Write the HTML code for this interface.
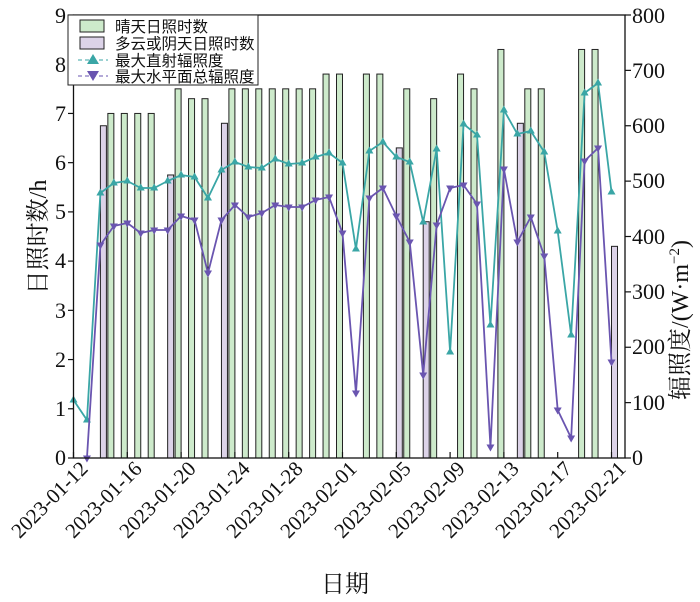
<!DOCTYPE html>
<html><head><meta charset="utf-8"><style>
body{margin:0;background:#fff}
svg{display:block}
.n{font-family:"Liberation Serif","Times New Roman",Times,serif;fill:#111}
.cjk{font-family:"Noto Sans CJK SC","WenQuanYi Zen Hei",sans-serif;fill:#111}
.mix{font-family:"Liberation Serif","Noto Serif CJK SC",serif;fill:#111}
</style></head><body>
<svg width="700" height="602" viewBox="0 0 700 602" xmlns="http://www.w3.org/2000/svg">
<g id="bars" stroke="#222" stroke-width="1"></g>
<g id="lines"></g>
<rect x="73.5" y="15" width="551.5" height="443" fill="none" stroke="#111" stroke-width="1.3"/>
<g id="ticks" stroke="#111" stroke-width="1.2"></g>
<g font-size="22" text-anchor="end" class="n">
<text class="n" x="66" y="465">0</text><text class="n" x="66" y="416">1</text><text class="n" x="66" y="367">2</text><text class="n" x="66" y="318">3</text><text class="n" x="66" y="268">4</text><text class="n" x="66" y="219">5</text><text class="n" x="66" y="170">6</text><text class="n" x="66" y="121">7</text><text class="n" x="66" y="72">8</text><text class="n" x="66" y="23">9</text>
</g>
<g font-size="22" text-anchor="start">
<text class="n" x="632" y="465">0</text><text class="n" x="632" y="410">100</text><text class="n" x="632" y="354">200</text><text class="n" x="632" y="299">300</text><text class="n" x="632" y="244">400</text><text class="n" x="632" y="188">500</text><text class="n" x="632" y="133">600</text><text class="n" x="632" y="78">700</text><text class="n" x="632" y="23">800</text>
</g>
<g font-size="21" text-anchor="end">
<text class="n" transform="translate(89,470) rotate(-45)">2023-01-12</text>
<text class="n" transform="translate(143,470) rotate(-45)">2023-01-16</text>
<text class="n" transform="translate(197,470) rotate(-45)">2023-01-20</text>
<text class="n" transform="translate(251,470) rotate(-45)">2023-01-24</text>
<text class="n" transform="translate(304,470) rotate(-45)">2023-01-28</text>
<text class="n" transform="translate(358,470) rotate(-45)">2023-02-01</text>
<text class="n" transform="translate(412,470) rotate(-45)">2023-02-05</text>
<text class="n" transform="translate(466,470) rotate(-45)">2023-02-09</text>
<text class="n" transform="translate(520,470) rotate(-45)">2023-02-13</text>
<text class="n" transform="translate(573,470) rotate(-45)">2023-02-17</text>
<text class="n" transform="translate(627,470) rotate(-45)">2023-02-21</text>
</g>
<text class="mix" x="345" y="592" font-size="24" text-anchor="middle">日期</text>
<text class="mix" transform="translate(46,237) rotate(-90)" font-size="24" text-anchor="middle">日照时数/h</text>
<text class="mix" transform="translate(688,320) rotate(-90)" font-size="24" text-anchor="middle">辐照度/(W·m<tspan dy="-9" font-size="15">−2</tspan><tspan dy="9">)</tspan></text>
<g>
<rect x="68" y="15" width="190" height="70" fill="#fff" stroke="#222" stroke-width="1"/>
<rect x="80" y="20" width="24" height="12" fill="#cdeacb" stroke="#222"/>
<rect x="80" y="37" width="24" height="12" fill="#dcd3e8" stroke="#222"/>
<line x1="78" y1="60" x2="108" y2="60" stroke="#3aa6a6" stroke-dasharray="4,3"/>
<polygon points="93,54 87,64 99,64" fill="#3aa6a6"/>
<line x1="78" y1="76" x2="108" y2="76" stroke="#6a55b0" stroke-dasharray="4,3"/>
<polygon points="87,71 99,71 93,81" fill="#6a55b0"/>
<g font-size="15.5">
<text class="cjk" x="115" y="32">晴天日照时数</text>
<text class="cjk" x="115" y="49">多云或阴天日照时数</text>
<text class="cjk" x="115" y="66">最大直射辐照度</text>
<text class="cjk" x="115" y="82">最大水平面总辐照度</text>
</g>
</g>
<script>
(function(){
var NS="http://www.w3.org/2000/svg";
function X(i){return 73.5+13.45*i;}
function el(p,t,a){var e=document.createElementNS(NS,t);for(var k in a)e.setAttribute(k,a[k]);p.appendChild(e);return e;}
function yl(v){return 458-v*443/9;}
var bars=document.getElementById('bars');
var g={3:7,4:7,5:7,6:7,8:7.5,9:7.3,10:7.3,12:7.5,13:7.5,14:7.5,15:7.5,16:7.5,17:7.5,18:7.5,19:7.8,20:7.8,22:7.8,23:7.8,25:7.5,27:7.3,29:7.8,30:7.5,32:8.3,34:7.5,35:7.5,38:8.3,39:8.3};
var p={2:6.75,7:5.75,11:6.8,24:6.3,26:4.8,33:6.8,40:4.3};
for(var k in g){var x=X(+k)-3;el(bars,'rect',{x:x-3,y:yl(g[k]),width:6,height:458-yl(g[k]),fill:'#cdeacb'});}
for(var k in p){var x=X(+k)+3;el(bars,'rect',{x:x-3,y:yl(p[k]),width:6,height:458-yl(p[k]),fill:'#dcd3e8'});}
var teal=[400,420,193,183,181,188,188,181,175,177,198,170,162,167,168,159,164,163,157,153,163,249,151,142,157,162,222,149,352,124,135,325,110,134,131,152,231,335,93,83,192];
var pur=[null,458,245,226,223,233,230,230,216,220,273,220,205,217,213,205,207,207,200,197,233,393,198,188,216,242,375,225,188,185,204,447,169,242,217,256,410,438,161,148,362];
var L=document.getElementById('lines');
function line(arr,c,up){var pts=[];arr.forEach(function(y,i){if(y!==null)pts.push(X(i)+','+y);});
el(L,'polyline',{points:pts.join(' '),fill:'none',stroke:c,'stroke-width':1.8});
arr.forEach(function(y,i){if(y===null)return;var x=X(i);
var pp=up?[x,y-4.5,x-4,y+2.5,x+4,y+2.5]:[x-4,y-2.5,x+4,y-2.5,x,y+4.5];el(L,'polygon',{points:pp.join(' '),fill:c});});}
line(teal,'#3aa6a6',true);line(pur,'#6a55b0',false);
var T=document.getElementById('ticks');
for(var v=0;v<=9;v++){el(T,'line',{x1:68,x2:73.5,y1:yl(v),y2:yl(v)});}
for(var v=0;v<=8;v++){var y=458-v*55.375;el(T,'line',{x1:625,x2:631,y1:y,y2:y});}
for(var i=0;i<=40;i+=4){el(T,'line',{x1:X(i),x2:X(i),y1:458,y2:452});}
})();
</script>
</svg>
</body></html>
